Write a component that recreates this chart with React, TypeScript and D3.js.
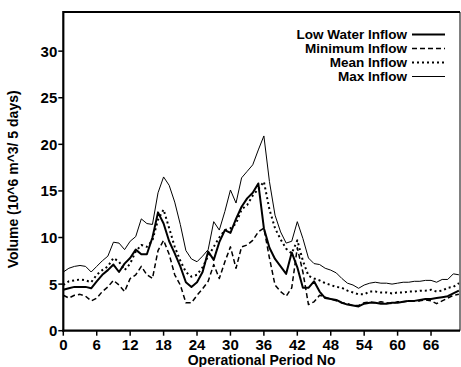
import React from "react";
import * as d3 from "d3";

const periods: number[] = Array.from({ length: 72 }, (_, i) => i);

const lowWater: number[] = [
  4.4, 4.55, 4.7, 4.7, 4.7, 4.55, 5.3, 6.0, 6.5, 7.1, 6.3, 7.2, 7.8, 8.7, 8.2, 8.2, 10.0, 12.7, 11.5, 9.6,
  8.3, 6.9, 5.2, 4.7, 5.2, 6.3, 8.5, 7.6, 9.5, 10.8, 10.5, 12.0, 13.3, 14.2, 14.8, 15.8, 11.0, 8.9, 7.7, 6.9,
  6.1, 8.4, 6.8, 4.6, 4.6, 5.3, 4.2, 3.5, 3.4, 3.3, 3.0, 2.8, 2.7, 2.6, 2.9, 3.0, 3.0, 2.9, 2.9, 3.0,
  3.0, 3.1, 3.2, 3.2, 3.3, 3.4, 3.4, 3.5, 3.6, 3.7, 4.0, 4.3,
];

const minimum: number[] = [
  3.8, 3.5, 3.8, 3.9, 3.7, 3.2, 3.5, 4.2, 4.7, 5.4, 4.9, 4.2, 5.6, 6.0, 6.9, 6.0, 5.6, 8.6, 9.7, 8.2,
  6.0, 4.9, 3.0, 3.0, 3.8, 4.5, 5.3, 7.1, 5.6, 7.4, 9.0, 6.7, 9.0, 9.2, 9.7, 10.6, 11.0, 7.8, 4.9, 4.2,
  3.7, 4.6, 8.9, 6.3, 2.8, 3.1, 3.8, 3.6, 3.4, 3.2, 3.0, 2.9, 2.7, 2.7, 3.0, 3.1, 3.0, 3.1, 3.0, 2.9,
  3.1, 3.1, 3.2, 3.2, 3.2, 3.3, 3.2, 2.9, 3.2, 3.5, 3.8, 3.9,
];

const mean: number[] = [
  4.9, 5.3, 5.4, 5.5, 5.4, 5.2, 6.0, 6.5, 6.9, 7.8, 7.4, 6.5, 7.2, 8.5, 9.2, 9.0, 9.7, 11.9, 13.0, 11.0,
  9.0, 7.5, 6.3, 5.8, 6.0, 6.8, 8.0, 9.0, 10.0, 10.8, 11.0, 11.5, 13.0, 13.5, 14.5, 15.2, 16.0, 13.0, 11.0, 9.8,
  8.8, 8.3, 9.7, 7.5, 5.9, 5.6, 5.4, 5.1, 4.9, 4.7, 4.6, 4.3, 4.1, 3.9, 3.9, 4.2, 4.2, 4.1, 4.1, 4.0,
  4.1, 4.1, 4.2, 4.2, 4.3, 4.3, 4.4, 4.2, 4.3, 4.6, 4.7, 5.1,
];

const maximum: number[] = [
  6.3, 6.7, 6.9, 7.0, 6.9, 6.3, 6.9, 7.5, 8.0, 9.5, 9.4, 8.7, 9.6, 10.1, 12.0, 11.5, 11.4, 14.8, 16.5, 15.6,
  13.8, 11.4, 8.6, 7.7, 7.4, 8.0, 8.7, 11.7, 10.8, 12.8, 15.1, 13.7, 16.4, 17.1, 17.8, 19.4, 20.9, 16.0, 12.4, 10.6,
  9.4, 9.6, 11.7, 9.9, 7.8, 7.2, 7.1, 6.7, 6.5, 6.2, 5.6, 5.1, 4.9, 4.55, 4.9, 5.1, 5.2, 5.1, 5.1, 5.0,
  5.1, 5.2, 5.2, 5.3, 5.3, 5.4, 5.4, 5.2, 5.5, 5.5, 6.1, 6.0,
];

const xTicks: number[] = [0, 6, 12, 18, 24, 30, 36, 42, 48, 54, 60, 66];
const yTicks: number[] = [0, 5, 10, 15, 20, 25, 30];

const seriesNames: string[] = ["Low Water Inflow", "Minimum Inflow", "Mean Inflow", "Max Inflow"];

const W = 461;
const H = 367;
const left = 63.3;
const right = 460;
const top = 12;
const bottom = 330.7;
const FONT = "'Liberation Sans', Arial, Helvetica, sans-serif";

const styles = [
  { width: 2, dash: "none" },
  { width: 1.5, dash: "5,3" },
  { width: 2, dash: "2,3" },
  { width: 1, dash: "none" },
];

export default function App() {
  const x = d3.scaleLinear().domain([0, 71.2]).range([left, right]);
  const y = d3.scaleLinear().domain([0, 34.2]).range([bottom, top]);
  const line = d3
    .line<number>()
    .x((_, i) => x(periods[i]))
    .y((d) => y(d));
  const data = [lowWater, minimum, mean, maximum];

  return (
    <svg
      width={W}
      height={H}
      style={{ position: "absolute", left: 0, top: 0, background: "#fff" }}
      fontFamily={FONT}
      fontWeight="bold"
    >
      <rect x={0} y={0} width={W} height={H} fill="#fff" />
      {data.map((d, i) => (
        <path
          key={i}
          d={line(d) || ""}
          fill="none"
          stroke="#000"
          strokeWidth={styles[i].width}
          strokeDasharray={styles[i].dash}
          strokeLinejoin="round"
        />
      ))}
      <line x1={left} x2={right} y1={top} y2={top} stroke="#000" strokeWidth={2} />
      <line x1={right} x2={right} y1={top} y2={bottom} stroke="#000" strokeWidth={1} />
      <line x1={left} x2={left} y1={top - 1} y2={bottom + 1} stroke="#000" strokeWidth={2.2} />
      <line x1={left - 1} x2={right} y1={bottom} y2={bottom} stroke="#000" strokeWidth={2.2} />
      {yTicks.map((t) => (
        <g key={"y" + t}>
          <line x1={left - 5} x2={left} y1={y(t)} y2={y(t)} stroke="#000" strokeWidth={1.5} />
          <text x={left - 6} y={y(t)} dy="0.36em" textAnchor="end" fontSize={15}>
            {t}
          </text>
        </g>
      ))}
      {xTicks.map((t) => (
        <g key={"x" + t}>
          <line x1={x(t)} x2={x(t)} y1={bottom} y2={bottom + 5} stroke="#000" strokeWidth={1.5} />
          <text x={x(t)} y={bottom + 19} textAnchor="middle" fontSize={15}>
            {t}
          </text>
        </g>
      ))}
      <text x={(left + right) / 2} y={365} textAnchor="middle" fontSize={14}>
        Operational Period No
      </text>
      <text
        transform={`translate(18, ${(top + bottom) / 2 + 8}) rotate(-90)`}
        textAnchor="middle"
        fontSize={14}
      >
        Volume (10^6 m^3/ 5 days)
      </text>
      {seriesNames.map((name, i) => {
        const ly = 39 + i * 14;
        return (
          <g key={name}>
            <text x={407} y={ly} textAnchor="end" fontSize={13.5}>
              {name}
            </text>
            <line
              x1={412}
              x2={445}
              y1={ly - 4.5}
              y2={ly - 4.5}
              stroke="#000"
              strokeWidth={styles[i].width}
              strokeDasharray={styles[i].dash}
            />
          </g>
        );
      })}
    </svg>
  );
}
